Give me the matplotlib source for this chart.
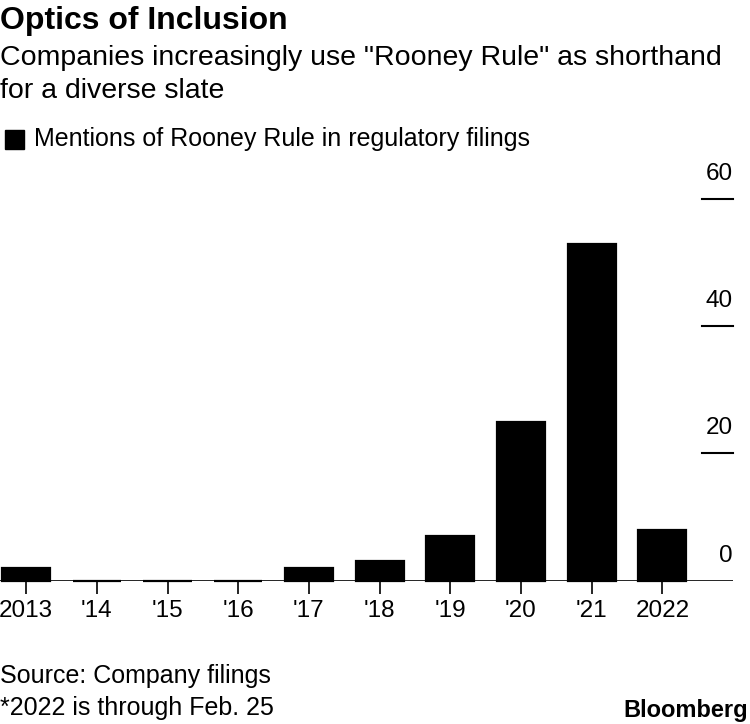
import matplotlib
matplotlib.use("Agg")
import matplotlib.pyplot as plt
import matplotlib.transforms as mtransforms

plt.rcParams['font.family'] = ['Liberation Sans', 'DejaVu Sans']

categories = ["2013", "'14", "'15", "'16", "'17", "'18", "'19", "'20", "'21", "2022"]
mentions = [2, 0, 0, 0, 2, 3, 7, 25, 53, 8]
y_ticks = [0, 20, 40, 60]

W, H = 750, 724
fig = plt.figure(figsize=(W/100, H/100), dpi=100)
ax = fig.add_axes([0, 1-580.5/H, 733/W, (580.5-199)/H])

x = list(range(len(categories)))
ax.bar(x, mentions, width=0.68, color="black", edgecolor="black", linewidth=1.6,
       zorder=3, clip_on=False)
ax.set_xlim(-0.37, 10.0)
ax.set_ylim(0, 60)

for s in ax.spines.values():
    s.set_visible(False)
ax.axhline(0, color="black", lw=1.2, zorder=4)
ax.set_yticks([])
ax.set_xticks(x)
ax.set_xticklabels(categories, fontsize=17.5)
ax.tick_params(axis="x", length=9, width=1.2, color="black", pad=5)

trans = mtransforms.blended_transform_factory(ax.transAxes, ax.transData)
for v in y_ticks:
    if v != 0:
        ax.plot([0.958, 1.0], [v, v], color="black", lw=1.5, transform=trans, clip_on=False)
    ax.annotate(str(v), xy=(1.0, v), xycoords=trans, xytext=(0, 10), textcoords="offset points",
                ha="right", va="bottom", fontsize=17.5)

fig.text(0, 1-6/H, "Optics of Inclusion", fontsize=23, fontweight="bold", ha="left", va="top")
fig.text(0, 1-45/H, "Companies increasingly use \"Rooney Rule\" as shorthand\nfor a diverse slate",
         fontsize=20.5, ha="left", va="top", linespacing=1.36)
fig.patches.append(plt.Rectangle((5/W, 1-149/H), 19/W, 19/H, transform=fig.transFigure,
                                 color="black", figure=fig))
fig.text(34/W, 1-139/H, "Mentions of Rooney Rule in regulatory filings", fontsize=18, ha="left", va="center")

fig.text(0, 1-676/H, "Source: Company filings", fontsize=18, ha="left", va="center")
fig.text(0, 1-708/H, "*2022 is through Feb. 25", fontsize=18, ha="left", va="center")
fig.text(1-2/W, 1-710/H, "Bloomberg", fontsize=17, fontweight="bold", ha="right", va="center")

fig.savefig("out.png", dpi=100)
